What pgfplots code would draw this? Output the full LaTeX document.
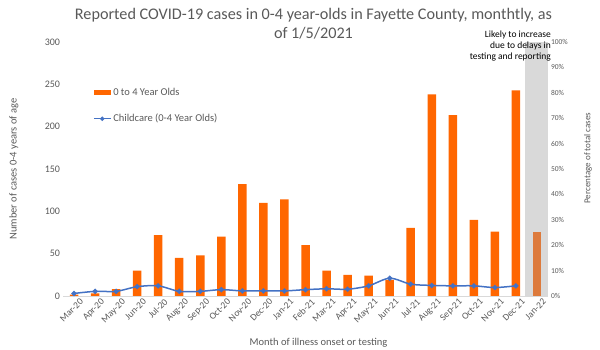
\documentclass[border=0pt]{standalone}
\usepackage{pgfplots}
\pgfplotsset{compat=1.18}
\usepackage{fontspec}
\setmainfont{Carlito}
\definecolor{corange}{HTML}{FF6600}
\definecolor{cdark}{HTML}{DD7A3C}
\definecolor{cband}{HTML}{D9D9D9}
\definecolor{cblue}{HTML}{4472C4}
\definecolor{ctext}{HTML}{595959}
\begin{document}
\begin{tikzpicture}[x=1pt,y=1pt]
\useasboundingbox (-63.5,-54) rectangle (536.5,296);
\begin{axis}[
  at={(0,0)}, anchor=south west,
  scale only axis, width=484pt, height=254pt,
  xmin=-0.5, xmax=22.5, ymin=0, ymax=300,
  ytick={0,50,...,300},
  xtick={0,...,22},
  xticklabels={Mar-20,Apr-20,May-20,Jun-20,Jul-20,Aug-20,Sep-20,Oct-20,Nov-20,Dec-20,Jan-21,Feb-21,Mar-21,Apr-21,May-21,Jun-21,Jul-21,Aug-21,Sep-21,Oct-21,Nov-21,Dec-21,Jan-22},
  x tick label style={rotate=45, anchor=north east, font=\fontsize{9.5}{11}\selectfont, text=ctext, inner sep=0.5pt, xshift=3pt, yshift=-4.5pt},
  y tick label style={font=\fontsize{10}{12}\selectfont, text=ctext},
  /pgf/number format/assume math mode=true,
  major tick length=0pt,
  axis x line*=bottom, axis y line*=left,
  y axis line style={draw=none},
  x axis line style={draw=cband, -},
  xlabel={Month of illness onset or testing},
  xlabel style={at={(axis description cs:0.527,-0.185)}, anchor=center, font=\fontsize{10.5}{12}\selectfont, text=ctext},
  ylabel={Number of cases 0-4 years of age},
  ylabel style={at={(axis description cs:-0.1023,0.5)}, anchor=center, font=\fontsize{10.5}{12}\selectfont, text=ctext},
  title={Reported COVID-19 cases in 0-4 year-olds in Fayette County, monthtly, as\\of 1/5/2021},
  title style={at={(axis description cs:0.5165,1)}, anchor=south, inner sep=0pt, yshift=-3pt, align=center, font=\fontsize{16.2}{19}\selectfont, text=ctext},
  legend style={at={(axis description cs:0.059,0.83)}, anchor=north west, draw=none, fill=none, font=\fontsize{10.5}{12}\selectfont, text=ctext, row sep=13pt, inner sep=1pt},
  legend cell align=left,
  clip=false,
]
\addplot[ybar, bar width=23pt, bar shift=0pt, fill=cband, draw=none, forget plot] coordinates {(22,300)};
\addplot[ybar, bar width=8.5pt, bar shift=0pt, fill=corange, draw=none,
  legend image code/.code={\fill[corange] (0pt,-2.5pt) rectangle (17pt,2.5pt);}] coordinates {
(0,1.5) (1,3) (2,8) (3,30) (4,72) (5,45) (6,48) (7,70) (8,132) (9,110) (10,114)
(11,60) (12,30) (13,25) (14,24) (15,19) (16,80.5) (17,238) (18,213.5) (19,90) (20,76) (21,243)};
\addlegendentry{0 to 4 Year Olds}
\addplot[ybar, bar width=8.5pt, bar shift=0pt, fill=cdark, draw=none, forget plot] coordinates {(22,76)};
\addplot[cblue, line width=1.5pt, smooth, tension=0.5, mark=*, mark size=1.8pt, mark options={fill=cblue, draw=cblue},
  legend image code/.code={\draw[cblue, line width=1pt] (0pt,0pt) -- (17pt,0pt); \fill[cblue] (8.5pt,0pt) circle (1.4pt);}] coordinates {
(0,3) (1,5.5) (2,5.5) (3,11) (4,12) (5,5.5) (6,5.5) (7,7.5) (8,6) (9,6) (10,6)
(11,7.5) (12,8.5) (13,8) (14,12) (15,21) (16,14) (17,12.5) (18,12) (19,12) (20,10) (21,12)};
\addlegendentry{Childcare (0-4 Year Olds)}
\node[anchor=north east, align=right, inner sep=0pt, font=\fontsize{9.5}{11}\selectfont, text=black] at (rel axis cs:1.0,1.0) [xshift=3.5pt, yshift=11pt] {Likely to increase\\due to delays in\\testing and reporting};
\end{axis}
\begin{axis}[
  at={(0,0)}, anchor=south west,
  scale only axis, width=484pt, height=254pt,
  xmin=-0.5, xmax=22.5, ymin=0, ymax=1,
  axis x line=none, axis y line*=right,
  y axis line style={draw=none},
  major tick length=0pt,
  ytick={0,0.1,...,1.01},
  yticklabels={0\%,10\%,20\%,30\%,40\%,50\%,60\%,70\%,80\%,90\%,100\%},
  y tick label style={font=\fontsize{7.5}{9}\selectfont, text=ctext},
  ylabel={Percentage of total cases},
  ylabel style={at={(axis description cs:1.0837,0.543)}, anchor=center, rotate=0, font=\fontsize{9}{10}\selectfont, text=ctext},
]
\addplot[draw=none, forget plot] coordinates {(0,0)};
\end{axis}
\end{tikzpicture}
\end{document}
